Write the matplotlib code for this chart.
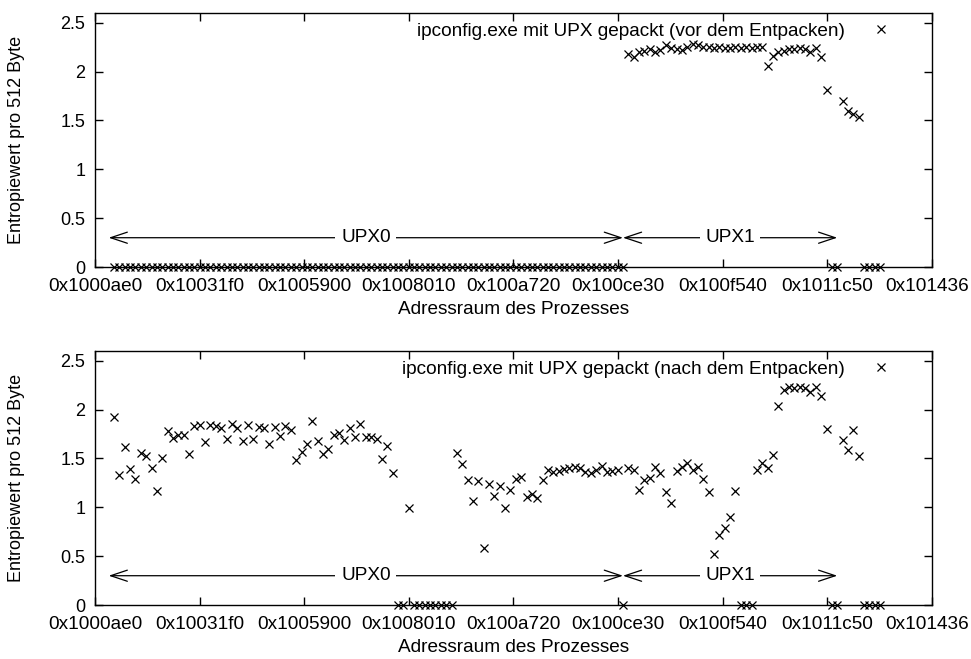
import numpy as np
import matplotlib
matplotlib.use('Agg')
import matplotlib.pyplot as plt
from matplotlib.transforms import ScaledTranslation

plt.rcParams['font.family'] = ['Liberation Sans', 'DejaVu Sans']
plt.rcParams['font.size'] = 13.7

# Entropie je 512-Byte-Block, ab 0x1001000
block_size = 512
first_block = 0x1001000

# vor dem Entpacken
upx0_before = [0.0] * 96
upx1_before = [2.18, 2.15, 2.20, 2.21, 2.23, 2.20, 2.22, 2.27, 2.24, 2.23,
               2.22, 2.25, 2.28, 2.27, 2.25, 2.25, 2.24, 2.25, 2.24, 2.24,
               2.25, 2.24, 2.25, 2.24, 2.25, 2.25, 2.06, 2.16, 2.20, 2.21,
               2.23, 2.23, 2.24, 2.23, 2.20, 2.24, 2.15, 1.81, 0.0, 0.0]
rest_before = [1.70, 1.60, 1.57, 1.54, 0.0, 0.0, 0.0, 0.0]

# nach dem Entpacken
upx0_after = [1.92, 1.33, 1.62, 1.39, 1.29, 1.56, 1.53, 1.40, 1.17, 1.50,
              1.78, 1.71, 1.74, 1.74, 1.55, 1.83, 1.84, 1.67, 1.84, 1.83,
              1.81, 1.70, 1.85, 1.81, 1.68, 1.84, 1.70, 1.82, 1.81, 1.65,
              1.82, 1.73, 1.83, 1.79, 1.48, 1.57, 1.65, 1.88, 1.68, 1.55,
              1.60, 1.74, 1.76, 1.69, 1.81, 1.72, 1.85, 1.72, 1.72, 1.70,
              1.49, 1.63, 1.35, 0.0, 0.0, 0.99, 0.0, 0.0, 0.0, 0.0,
              0.0, 0.0, 0.0, 0.0, 1.56, 1.44, 1.28, 1.06, 1.27, 0.58,
              1.24, 1.12, 1.22, 0.99, 1.18, 1.29, 1.31, 1.11, 1.14, 1.10,
              1.28, 1.38, 1.36, 1.37, 1.39, 1.40, 1.41, 1.40, 1.36, 1.35,
              1.38, 1.42, 1.36, 1.37, 1.38, 0.0]
upx1_after = [1.40, 1.38, 1.18, 1.28, 1.30, 1.41, 1.35, 1.16, 1.04, 1.37,
              1.41, 1.45, 1.38, 1.41, 1.29, 1.16, 0.52, 0.72, 0.79, 0.90,
              1.17, 0.0, 0.0, 0.0, 1.38, 1.45, 1.40, 1.54, 2.04, 2.20,
              2.23, 2.22, 2.23, 2.22, 2.18, 2.23, 2.14, 1.80, 0.0, 0.0]
rest_after = [1.69, 1.59, 1.79, 1.53, 0.0, 0.0, 0.0, 0.0]

xticks = [0x1000ae0, 0x10031f0, 0x1005900, 0x1008010, 0x100a720,
          0x100ce30, 0x100f540, 0x1011c50, 0x1014360]
# letztes Label ist im Original am Bildrand abgeschnitten
xtick_labels = ['0x1000ae0', '0x10031f0', '0x1005900', '0x1008010',
                '0x100a720', '0x100ce30', '0x100f540', '0x1011c50', '0x101436']

sections = [('UPX0', 0x1001000, 0x100d000),
            ('UPX1', 0x100d000, 0x1012000)]
arrow_y = 0.3

plots = [
    ('ipconfig.exe mit UPX gepackt (vor dem Entpacken)',
     upx0_before + upx1_before + rest_before),
    ('ipconfig.exe mit UPX gepackt (nach dem Entpacken)',
     upx0_after + upx1_after + rest_after),
]

fig = plt.figure(figsize=(9.71, 6.59), dpi=100)
ax_pos = [[0.0978, 0.5948, 0.862, 0.3855],
          [0.0978, 0.0819, 0.862, 0.3855]]

for pos, (title, values) in zip(ax_pos, plots):
    ax = fig.add_axes(pos)
    values = np.array(values)
    addr = first_block + block_size * (np.arange(len(values)) + 1)
    ax.plot(addr, values, 'x', color='black', markersize=5.2, mew=0.9,
            label=title, clip_on=False)

    for name, start, end in sections:
        ax.annotate('', xy=(start, arrow_y), xytext=(end, arrow_y),
                    arrowprops=dict(arrowstyle='<->,head_length=1.2,head_width=0.4',
                                    color='black', lw=0.9, shrinkA=0, shrinkB=0,
                                    mutation_scale=10))
        ax.text((start + end) / 2, arrow_y, name, ha='center', va='center',
                bbox=dict(facecolor='white', edgecolor='none', pad=4))

    ax.set_xlim(xticks[0], xticks[-1])
    ax.set_ylim(0, 2.6)
    ax.set_xticks(xticks)
    ax.set_xticklabels(xtick_labels)
    ax.set_yticks([0, 0.5, 1, 1.5, 2, 2.5])
    ax.set_yticklabels(['0', '0.5', '1', '1.5', '2', '2.5'], fontsize=13)
    ax.tick_params(direction='in', top=True, right=True, length=6, width=1)
    ax.tick_params(axis='x', pad=8)
    ax.tick_params(axis='y', pad=7)
    for sp in ax.spines.values():
        sp.set_linewidth(1.0)

    # abgeschnittenes Label rechts ans Bildende schieben
    last = ax.get_xticklabels()[-1]
    last.set_transform(last.get_transform() +
                       ScaledTranslation(-0.05, 0, fig.dpi_scale_trans))

    ax.set_xlabel('Adressraum des Prozesses', labelpad=4)
    ax.set_ylabel('Entropiewert pro 512 Byte', fontsize=13)
    ax.yaxis.set_label_coords(-0.083, 0.5)

    ax.legend(loc='upper right', bbox_to_anchor=(0.9618, 0.962),
              markerfirst=False, frameon=False, handlelength=2,
              handletextpad=0.9, borderaxespad=0, borderpad=0)

fig.savefig('out.png', dpi=100)
